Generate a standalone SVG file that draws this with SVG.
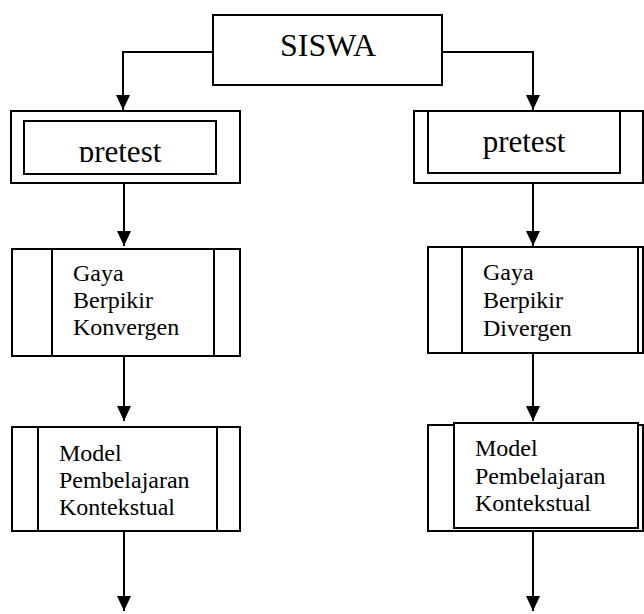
<svg xmlns="http://www.w3.org/2000/svg" width="644" height="614" viewBox="0 0 644 614">
<style>
.box{fill:#fff;stroke:#000;stroke-width:2}
.ln{fill:none;stroke:#000;stroke-width:2}
.t{font-family:"Liberation Serif","Times New Roman",serif;fill:#000}
.big{font-size:32px}
.mid{font-size:31px}
.sm{font-size:24px}
</style>
<defs>
<marker id="ah" markerUnits="userSpaceOnUse" markerWidth="16" markerHeight="18" refX="15" refY="7" orient="auto">
<path d="M0,0 L15,7 L0,14 Z" fill="#000"/>
</marker>
<clipPath id="clipL"><rect x="24" y="122" width="190" height="40"/></clipPath>
</defs>
<rect width="644" height="614" fill="#fff"/>
<g id="connectors">
<path class="ln" d="M213,52 H123 V110" marker-end="url(#ah)"/>
<path class="ln" d="M442,52 H533 V110" marker-end="url(#ah)"/>
<path class="ln" d="M124,183 V246" marker-end="url(#ah)"/>
<path class="ln" d="M533,183 V246" marker-end="url(#ah)"/>
<path class="ln" d="M124,356 V421" marker-end="url(#ah)"/>
<path class="ln" d="M533,353 V421" marker-end="url(#ah)"/>
<path class="ln" d="M124,531 V611" marker-end="url(#ah)"/>
<path class="ln" d="M533,528 V611" marker-end="url(#ah)"/>
</g>
<g id="siswa">
<rect class="box" x="213" y="15" width="229" height="70"/>
<text class="t big" x="328" y="56" text-anchor="middle">SISWA</text>
</g>
<g id="pretest-left">
<rect class="box" x="11" y="111" width="229" height="72"/>
<rect class="box" x="24" y="121" width="192" height="53"/>
<text class="t mid" x="120" y="162" text-anchor="middle" clip-path="url(#clipL)">pretest</text>
</g>
<g id="pretest-right">
<rect class="box" x="414" y="111" width="229" height="72"/>
<rect class="box" x="428" y="111" width="192" height="62"/>
<text class="t mid" x="524" y="152" text-anchor="middle">pretest</text>
</g>
<g id="gaya-konvergen">
<rect class="box" x="12" y="249" width="228" height="107"/>
<rect class="box" x="52" y="249" width="162" height="107"/>
<text class="t sm" x="73" y="281">Gaya</text>
<text class="t sm" x="73" y="308">Berpikir</text>
<text class="t sm" x="73" y="335">Konvergen</text>
</g>
<g id="gaya-divergen">
<rect class="box" x="428" y="247" width="215" height="106"/>
<rect class="box" x="462" y="247" width="176" height="106"/>
<text class="t sm" x="483" y="280">Gaya</text>
<text class="t sm" x="483" y="308">Berpikir</text>
<text class="t sm" x="483" y="336">Divergen</text>
</g>
<g id="model-left">
<rect class="box" x="12" y="427" width="228" height="104"/>
<rect class="box" x="38" y="427" width="179" height="104"/>
<text class="t sm" x="59" y="461">Model</text>
<text class="t sm" x="59" y="488">Pembelajaran</text>
<text class="t sm" x="59" y="515">Kontekstual</text>
</g>
<g id="model-right">
<rect class="box" x="428" y="425" width="215" height="106"/>
<rect class="box" x="454" y="423" width="184" height="105"/>
<text class="t sm" x="475" y="456">Model</text>
<text class="t sm" x="475" y="484">Pembelajaran</text>
<text class="t sm" x="475" y="511">Kontekstual</text>
</g>
</svg>
